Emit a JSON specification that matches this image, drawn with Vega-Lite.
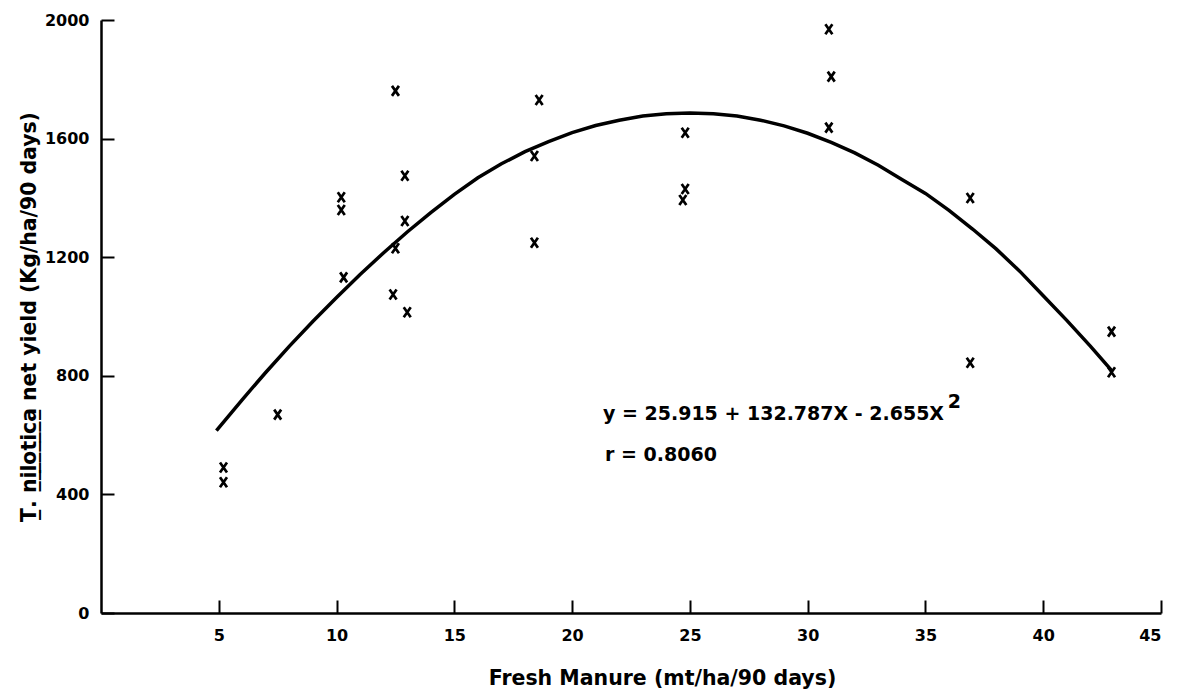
{
  "$schema": "https://vega.github.io/schema/vega-lite/v6.json",
  "width": 1060,
  "height": 593,
  "autosize": {"type": "none"},
  "padding": {"left": 101, "top": 20, "right": 16, "bottom": 77},
  "background": "white",
  "config": {
    "view": {"stroke": null},
    "axis": {
      "grid": false,
      "domainColor": "black",
      "domainWidth": 2.5,
      "tickColor": "black",
      "tickWidth": 2,
      "tickSize": -13,
      "labelFont": "DejaVu Sans",
      "labelFontWeight": "bold",
      "labelFontSize": 16,
      "labelColor": "black",
      "titleFont": "DejaVu Sans",
      "titleFontWeight": "bold",
      "titleColor": "black"
    }
  },
  "datasets": {
    "pts": [
      {"manure": 5.2, "yield": 491},
      {"manure": 5.2, "yield": 441},
      {"manure": 7.5, "yield": 669},
      {"manure": 10.2, "yield": 1402},
      {"manure": 10.2, "yield": 1359},
      {"manure": 10.3, "yield": 1132},
      {"manure": 12.5, "yield": 1761},
      {"manure": 12.5, "yield": 1230},
      {"manure": 12.4, "yield": 1074},
      {"manure": 12.9, "yield": 1475},
      {"manure": 12.9, "yield": 1322},
      {"manure": 13.0, "yield": 1014},
      {"manure": 18.6, "yield": 1730},
      {"manure": 18.4, "yield": 1541},
      {"manure": 18.4, "yield": 1249},
      {"manure": 24.8, "yield": 1620},
      {"manure": 24.8, "yield": 1430},
      {"manure": 24.7, "yield": 1393},
      {"manure": 30.9, "yield": 1969},
      {"manure": 31.0, "yield": 1809},
      {"manure": 30.9, "yield": 1637},
      {"manure": 36.9, "yield": 1400},
      {"manure": 36.9, "yield": 844},
      {"manure": 42.9, "yield": 949},
      {"manure": 42.9, "yield": 812}
    ],
    "curve": [
      {"manure": 4.9, "yield": 615},
      {"manure": 6, "yield": 720},
      {"manure": 7, "yield": 812},
      {"manure": 8, "yield": 900},
      {"manure": 9, "yield": 984},
      {"manure": 10, "yield": 1064},
      {"manure": 11, "yield": 1142},
      {"manure": 12, "yield": 1215},
      {"manure": 13, "yield": 1285},
      {"manure": 14, "yield": 1350},
      {"manure": 15, "yield": 1412},
      {"manure": 16, "yield": 1468},
      {"manure": 17, "yield": 1515},
      {"manure": 18, "yield": 1556},
      {"manure": 19, "yield": 1590},
      {"manure": 20, "yield": 1620},
      {"manure": 21, "yield": 1644},
      {"manure": 22, "yield": 1662},
      {"manure": 23, "yield": 1676},
      {"manure": 24, "yield": 1684},
      {"manure": 25, "yield": 1686},
      {"manure": 26, "yield": 1684},
      {"manure": 27, "yield": 1676},
      {"manure": 28, "yield": 1662},
      {"manure": 29, "yield": 1643},
      {"manure": 30, "yield": 1618},
      {"manure": 31, "yield": 1587},
      {"manure": 32, "yield": 1552},
      {"manure": 33, "yield": 1510},
      {"manure": 34, "yield": 1462},
      {"manure": 35, "yield": 1415},
      {"manure": 36, "yield": 1358},
      {"manure": 37, "yield": 1295},
      {"manure": 38, "yield": 1228},
      {"manure": 39, "yield": 1153},
      {"manure": 40, "yield": 1070},
      {"manure": 41, "yield": 987},
      {"manure": 42, "yield": 900},
      {"manure": 42.9, "yield": 818}
    ],
    "notes": [
      {"manure": 21.31, "yield": 651, "label": "y = 25.915 + 132.787X - 2.655X"},
      {"manure": 35.95, "yield": 690, "label": "2"},
      {"manure": 21.4, "yield": 513, "label": "r = 0.8060"}
    ]
  },
  "layer": [
    {
      "data": {"name": "curve"},
      "mark": {"type": "line", "color": "black", "strokeWidth": 3.5},
      "encoding": {
        "x": {
          "field": "manure", "type": "quantitative",
          "scale": {"domain": [0, 45], "nice": false, "zero": false},
          "axis": {
            "values": [5, 10, 15, 20, 25, 30, 35, 40, 45],
            "format": "d",
            "labelPadding": 27,
            "title": "Fresh Manure (mt/ha/90 days)",
            "titleFontSize": 20.5,
            "titlePadding": 25,
            "titleX": 561
          }
        },
        "y": {
          "field": "yield", "type": "quantitative",
          "scale": {"domain": [0, 2000], "nice": false},
          "axis": {
            "values": [0, 400, 800, 1200, 1600, 2000],
            "format": "d",
            "labelPadding": 25,
            "title": "T̲. n̲i̲l̲o̲t̲i̲c̲a̲ net yield (Kg/ha/90 days)",
            "titleFontSize": 20.4,
            "titlePadding": 5
          }
        }
      }
    },
    {
      "data": {"name": "pts"},
      "mark": {
        "type": "point",
        "shape": "M-0.7,-1L0.7,1M0.7,-1L-0.7,1",
        "size": 100,
        "filled": false,
        "color": "black",
        "strokeWidth": 2.7,
        "opacity": 1
      },
      "encoding": {
        "x": {"field": "manure", "type": "quantitative"},
        "y": {"field": "yield", "type": "quantitative"}
      }
    },
    {
      "data": {"name": "notes"},
      "mark": {
        "type": "text",
        "align": "left",
        "baseline": "alphabetic",
        "font": "DejaVu Sans",
        "fontWeight": "bold",
        "fontSize": 19,
        "color": "black"
      },
      "encoding": {
        "x": {"field": "manure", "type": "quantitative"},
        "y": {"field": "yield", "type": "quantitative"},
        "text": {"field": "label", "type": "nominal"}
      }
    }
  ]
}
